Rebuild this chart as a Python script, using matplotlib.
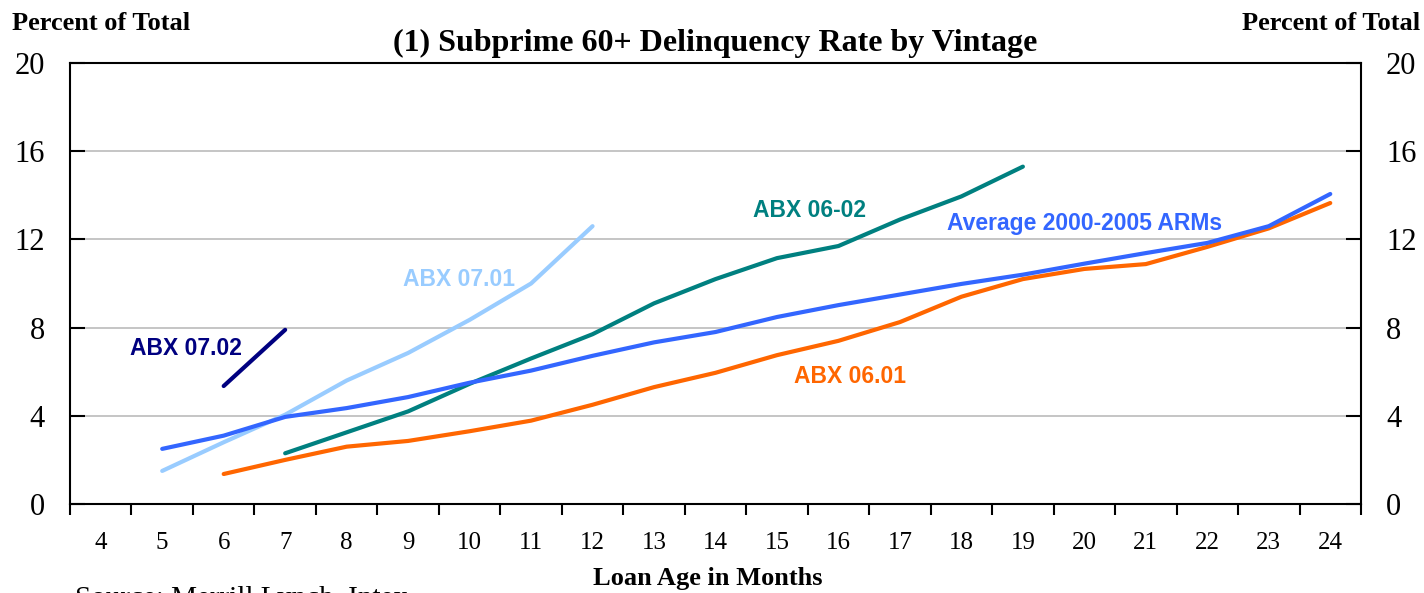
import matplotlib
matplotlib.use("Agg")
import matplotlib.pyplot as plt
import numpy as np

months = list(range(4, 25))
x_avg = list(range(5, 25))
avg_arms = [2.5, 3.1, 3.95, 4.35, 4.85, 5.5, 6.05, 6.72, 7.33, 7.8, 8.48, 9.02, 9.5, 9.98, 10.4, 10.9, 11.38, 11.84, 12.6, 14.06]
x_0701 = list(range(5, 13))
abx_0701 = [1.5, 2.8, 4.05, 5.6, 6.85, 8.35, 10.0, 12.6]
x_0702 = [6, 7]
abx_0702 = [5.35, 7.9]
x_0602 = list(range(7, 20))
abx_0602 = [2.3, 3.25, 4.2, 5.45, 6.6, 7.7, 9.1, 10.2, 11.15, 11.7, 12.9, 13.95, 15.3]
x_0601 = list(range(6, 25))
abx_0601 = [1.36, 2.0, 2.6, 2.86, 3.3, 3.78, 4.5, 5.3, 5.95, 6.75, 7.4, 8.25, 9.4, 10.2, 10.66, 10.88, 11.66, 12.5, 13.65]
yticks = [0, 4, 8, 12, 16, 20]

W, H = 1424, 593
fig = plt.figure(figsize=(W / 100, H / 100), dpi=100)
ax = fig.add_axes([70 / W, 1 - 504 / H, 1291 / W, 441 / H])

serif = "Liberation Serif"
sans = "Liberation Sans"

for y in yticks[1:-1]:
    ax.axhline(y, color="#C0C0C0", lw=1.3, zorder=1)

lw = 3.0
ax.plot(x_0601, abx_0601, color="#FF6600", lw=lw, zorder=3, solid_capstyle="round")
ax.plot(x_0602, abx_0602, color="#008080", lw=lw, zorder=3, solid_capstyle="round")
ax.plot(x_avg, avg_arms, color="#3366FF", lw=lw, zorder=4, solid_capstyle="round")
ax.plot(x_0701, abx_0701, color="#99CCFF", lw=lw, zorder=3, solid_capstyle="round")
ax.plot(x_0702, abx_0702, color="#000080", lw=lw, zorder=3, solid_capstyle="round")

ax.set_xlim(3.5, 24.5)
ax.set_ylim(0, 20)

# x ticks: boundaries as major ticks, labels at minor ticks
ax.set_xticks(np.arange(3.5, 25, 1.0))
ax.set_xticklabels([])
ax.set_xticks(months, minor=True)
ax.set_xticklabels([str(m) for m in months], minor=True, fontfamily=serif, fontsize=18)
ax.tick_params(axis="x", which="major", direction="out", length=8, width=1.5)
ax.tick_params(axis="x", which="minor", length=0, pad=20)

ax.set_yticks(yticks)
ax.set_yticklabels([str(v) for v in yticks], fontfamily=serif, fontsize=22)
ax.tick_params(axis="y", which="major", direction="in", length=11, width=1.5,
               left=True, right=True, labelleft=True, labelright=True, pad=18)

for s in ax.spines.values():
    s.set_linewidth(1.5)
    s.set_color("black")

ax.text(0.5, 1.012, "(1) Subprime 60+ Delinquency Rate by Vintage", transform=ax.transAxes,
        ha="center", va="bottom", fontfamily=serif, fontweight="bold", fontsize=23)
fig.text(12 / W, 1 - 24 / H, "Percent of Total", ha="left", va="center",
         fontfamily=serif, fontweight="bold", fontsize=19)
fig.text(1420 / W, 1 - 24 / H, "Percent of Total", ha="right", va="center",
         fontfamily=serif, fontweight="bold", fontsize=19)
fig.text(708 / W, 1 - 578 / H, "Loan Age in Months", ha="center", va="center",
         fontfamily=serif, fontweight="bold", fontsize=19)
fig.text(75 / W, 1 - 586 / H, "Source: Merrill Lynch, Intex", ha="left", va="top",
         fontfamily=serif, fontsize=21)

lab_kw = dict(fontfamily=sans, fontweight="bold", fontsize=16.5, va="center", ha="left", zorder=5)
ax.text(4.48, 7.05, "ABX 07.02", color="#000080", **lab_kw)
ax.text(8.92, 10.2, "ABX 07.01", color="#99CCFF", **lab_kw)
ax.text(14.61, 13.29, "ABX 06-02", color="#008080", **lab_kw)
ax.text(17.77, 12.74, "Average 2000-2005 ARMs", color="#3366FF", **lab_kw)
ax.text(15.28, 5.76, "ABX 06.01", color="#FF6600", **lab_kw)

fig.savefig("out.png", dpi=100)
